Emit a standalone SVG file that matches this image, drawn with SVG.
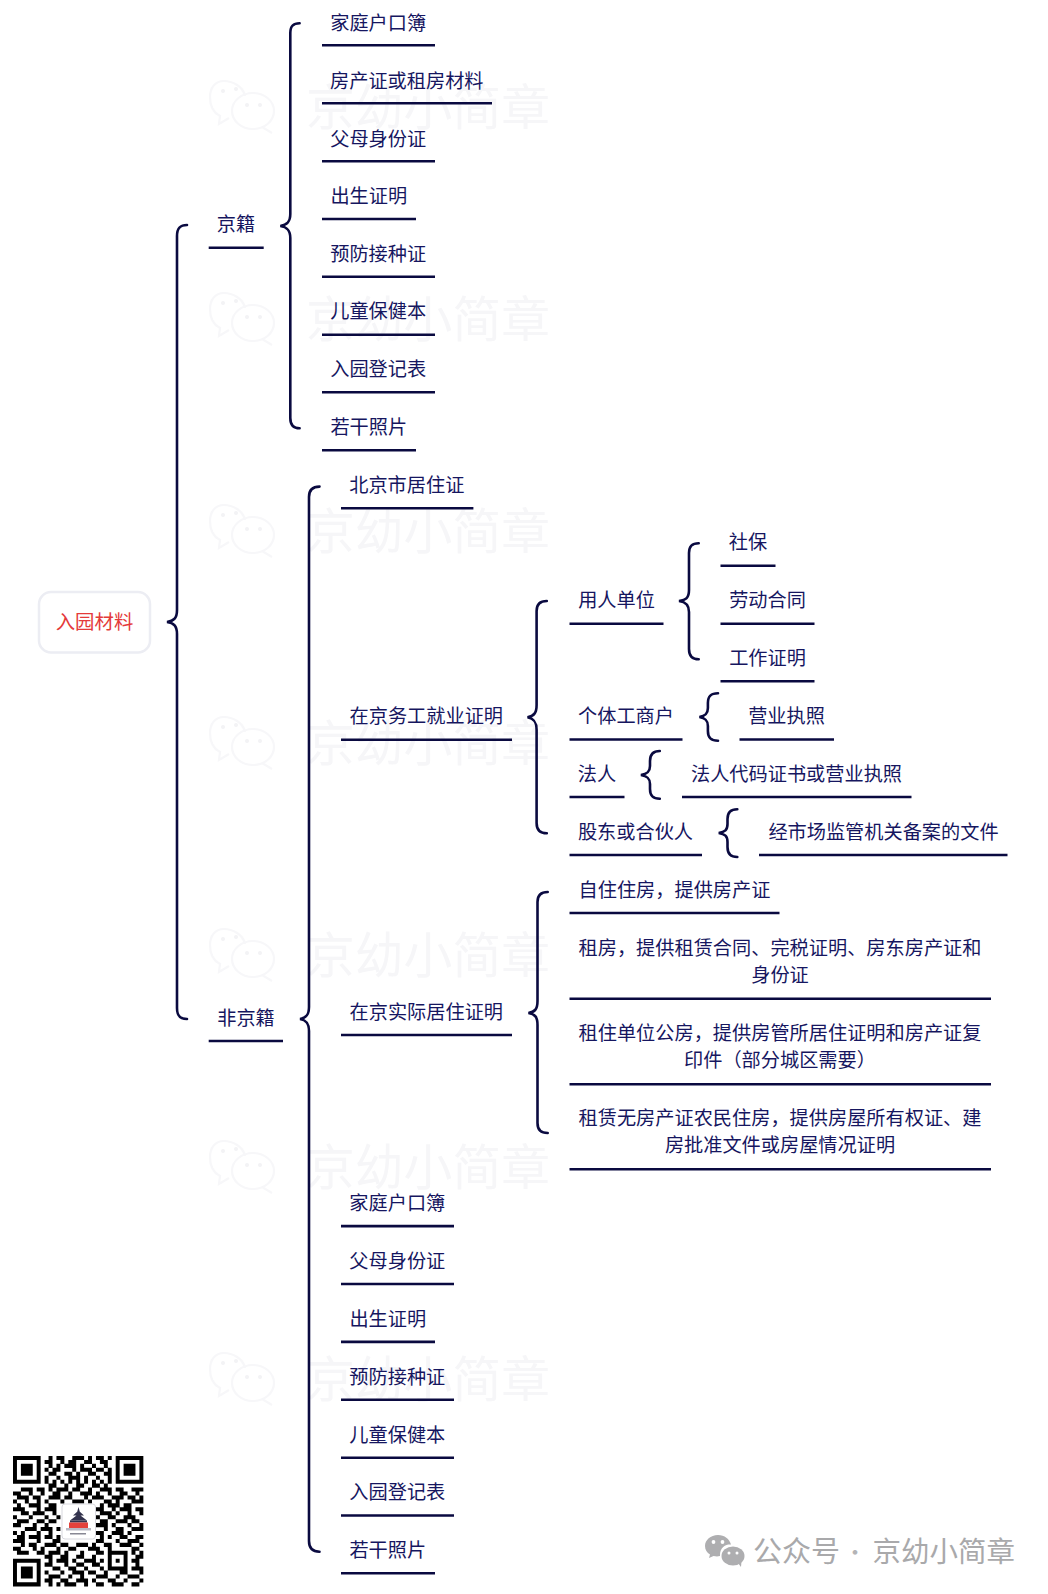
<svg xmlns="http://www.w3.org/2000/svg" width="1048" height="1594" viewBox="0 0 1048 1594">
<style>
text{font-family:"Noto Sans CJK SC","Noto Sans",sans-serif}
.t{font-size:19.200px;fill:#16165f;text-anchor:middle}
.u{stroke:#0a0a40;stroke-width:2.6;fill:none}
.b{stroke:#0a0a40;stroke-width:2.6;fill:none;stroke-linecap:round}
.wm{font-size:48.800px;fill:#f6f6f8}
.wl{fill:none;stroke:#f7f7f9;stroke-width:2.200}
</style>
<defs>
<g id="wmark">
<path class="wl" d="M245 96C243 86 232 81 224 81C215 81 210 88 210 97C210 106 214 113 220 116L219 124L229 118"/>
<ellipse class="wl" cx="253" cy="111" rx="21" ry="18"/>
<path class="wl" d="M262 127L272 133"/>
<circle cx="223" cy="91" r="2" fill="#f3f3f5"/><circle cx="236" cy="89" r="2" fill="#f3f3f5"/><circle cx="247" cy="105" r="2" fill="#f3f3f5"/><circle cx="260" cy="105" r="2" fill="#f3f3f5"/>
<text class="wm" x="306" y="125">京幼小简章</text>
</g>
</defs>
<rect width="1048" height="1594" fill="#fff"/>
<g id="watermarks">
<use href="#wmark"/>
<use href="#wmark" y="212"/>
<use href="#wmark" y="424"/>
<use href="#wmark" y="636"/>
<use href="#wmark" y="848"/>
<use href="#wmark" y="1060"/>
<use href="#wmark" y="1272"/>
</g>
<g id="connectors">
<path class="b" d="M187 225C180 225 177 228 177 236V610C177 618 174 621 167 622C174 623 177 626 177 634V1008C177 1016 180 1019 187 1019"/>
<path class="b" d="M299.600 23.300C293 23.300 290.300 26 290.300 33V214C290.300 222 287 225 280.300 226C287 227 290.300 230 290.300 238V418C290.300 425 293 428.300 299.600 428.300"/>
<path class="b" d="M319.500 486.600C312 486.600 309 490 309 497V1007C309 1015 306 1018 300 1019C306 1020 309 1023 309 1031V1541C309 1548 312 1551.700 319.500 1551.700"/>
<g transform="translate(-1 0)">
<path class="b" d="M547.800 601C541 601 537.600 604 537.600 611V705C537.600 713 535 716 528.500 717.300C535 718.500 537.600 722 537.600 730V823C537.600 830 541 833.300 547.800 833.300"/>
<path class="b" d="M699.700 543.300C693 543.300 690 546 690 553V590C690 598 687 600 680 601C687 602 690 605 690 612V649C690 656 693 659.300 699.700 659.300"/>
<path class="b" d="M719 693.300C712 693.300 708.900 696 708.900 703V708C708.900 714 706 716 700.400 717C706 718 708.900 720 708.900 726V731C708.900 738 712 740.700 719 740.700"/>
<path class="b" d="M660.800 751C654 751 651 754 651 761V766C651 772 648 774 641.900 775C648 776 651 778 651 784V789C651 796 654 798.700 660.800 798.700"/>
<path class="b" d="M738.300 809.300C732 809.300 728.500 812 728.500 819V824C728.500 830 726 832 719.700 833C726 834 728.500 836 728.500 842V847C728.500 854 732 857 738.300 857"/>
<path class="b" d="M548.700 892C542 892 538.500 895 538.500 902V1001C538.500 1009 536 1012 529.400 1013C536 1014 538.500 1017 538.500 1025V1123C538.500 1130 542 1133 548.700 1133"/>
</g>
</g>
<g id="root"><rect x="39" y="592" width="111" height="60.500" rx="12" fill="#fff" stroke="#ecedf3" stroke-width="2.500"/><text x="94.500" y="629" style="font-size:19.400px;fill:#e43a3a;text-anchor:middle">入园材料</text></g>
<g id="jingji"><text class="t" x="236" y="231">京籍</text><path class="u" d="M208.700 247.700H263.700"/></g>
<g id="feijingji"><text class="t" x="246" y="1024.800">非京籍</text><path class="u" d="M208.700 1041H283"/></g>
<g id="a1"><text class="t" x="378.200" y="29.700">家庭户口簿</text><path class="u" d="M322 45.300H435"/></g>
<g id="a2"><text class="t" x="406.800" y="87.700">房产证或租房材料</text><path class="u" d="M322 103.300H492"/></g>
<g id="a3"><text class="t" x="378.200" y="145.700">父母身份证</text><path class="u" d="M322 161.300H435"/></g>
<g id="a4"><text class="t" x="368.800" y="203.400">出生证明</text><path class="u" d="M322 219H416"/></g>
<g id="a5"><text class="t" x="378.200" y="260.500">预防接种证</text><path class="u" d="M322 276.700H435"/></g>
<g id="a6"><text class="t" x="378.200" y="318.400">儿童保健本</text><path class="u" d="M322 334.700H435"/></g>
<g id="a7"><text class="t" x="378.200" y="376">入园登记表</text><path class="u" d="M322 392.300H435"/></g>
<g id="a8"><text class="t" x="368.800" y="434">若干照片</text><path class="u" d="M322 450.300H416"/></g>
<g id="b1"><text class="t" x="406.800" y="492">北京市居住证</text><path class="u" d="M341 508.300H473.400"/></g>
<g id="b2"><text class="t" x="426.300" y="723.300">在京务工就业证明</text><path class="u" d="M341 739.700H512"/></g>
<g id="b3"><text class="t" x="426.300" y="1018.800">在京实际居住证明</text><path class="u" d="M341 1035H512"/></g>
<g id="b4"><text class="t" x="397.300" y="1210">家庭户口簿</text><path class="u" d="M341 1226.100H454"/></g>
<g id="b5"><text class="t" x="397.300" y="1268">父母身份证</text><path class="u" d="M341 1284H454"/></g>
<g id="b6"><text class="t" x="387.800" y="1326">出生证明</text><path class="u" d="M341 1341.900H435"/></g>
<g id="b7"><text class="t" x="397.300" y="1384">预防接种证</text><path class="u" d="M341 1399.800H454"/></g>
<g id="b8"><text class="t" x="397.300" y="1441.500">儿童保健本</text><path class="u" d="M341 1457.700H454"/></g>
<g id="b9"><text class="t" x="397.300" y="1498.800">入园登记表</text><path class="u" d="M341 1515.500H454"/></g>
<g id="b10"><text class="t" x="387.800" y="1557">若干照片</text><path class="u" d="M341 1573.300H435"/></g>
<g id="c1"><text class="t" x="616.500" y="607.300">用人单位</text><path class="u" d="M569.500 623.700H663.500"/></g>
<g id="c2"><text class="t" x="626" y="723.300">个体工商户</text><path class="u" d="M569.500 739.500H682.500"/></g>
<g id="c3"><text class="t" x="597" y="781">法人</text><path class="u" d="M569.500 797H624.500"/></g>
<g id="c4"><text class="t" x="635.500" y="839">股东或合伙人</text><path class="u" d="M569.500 855H702"/></g>
<g id="d1"><text class="t" x="748" y="549.300">社保</text><path class="u" d="M720.500 565.700H775.500"/></g>
<g id="d2"><text class="t" x="767.500" y="607.300">劳动合同</text><path class="u" d="M720.500 623.700H814.500"/></g>
<g id="d3"><text class="t" x="767.500" y="665.300">工作证明</text><path class="u" d="M720.500 681.300H814.500"/></g>
<g id="d4"><text class="t" x="786.500" y="723.300">营业执照</text><path class="u" d="M739.500 739.500H834"/></g>
<g id="d5"><text class="t" x="796.500" y="781">法人代码证书或营业执照</text><path class="u" d="M682 797H911.500"/></g>
<g id="d6"><text class="t" x="883.500" y="839">经市场监管机关备案的文件</text><path class="u" d="M759 855H1007.500"/></g>
<g id="e1"><text class="t" x="674.500" y="897">自住住房，提供房产证</text><path class="u" d="M569.500 913H779.500"/></g>
<g id="e2"><text class="t" x="780" y="954.500">租房，提供租赁合同、完税证明、房东房产证和</text><text class="t" x="780" y="982">身份证</text><path class="u" d="M569.500 998.700H991"/></g>
<g id="e3"><text class="t" x="780" y="1040">租住单位公房，提供房管所居住证明和房产证复</text><text class="t" x="780" y="1066.500">印件（部分城区需要）</text><path class="u" d="M569.500 1084.200H991"/></g>
<g id="e4"><text class="t" x="780" y="1124.500">租赁无房产证农民住房，提供房屋所有权证、建</text><text class="t" x="780" y="1152">房批准文件或房屋情况证明</text><path class="u" d="M569.500 1169.200H991"/></g>
<g id="qr">
<path transform="translate(13 1456) scale(3.95)" fill="none" stroke="#000" stroke-width="1.02" d="M0 .5h7M9 .5h1M11 .5h2M15 .5h3M19 .5h1M21 .5h2M24 .5h1M26 .5h7M0 1.500h1M6 1.500h1M8 1.500h2M12 1.500h1M14 1.500h2M18 1.500h2M22 1.500h2M26 1.500h1M32 1.500h1M0 2.500h1M2 2.500h3M6 2.500h1M9 2.500h1M11 2.500h1M13 2.500h3M17 2.500h1M20 2.500h1M23 2.500h1M26 2.500h1M28 2.500h3M32 2.500h1M0 3.500h1M2 3.500h3M6 3.500h1M8 3.500h1M10 3.500h2M15 3.500h1M17 3.500h3M21 3.500h2M24 3.500h1M26 3.500h1M28 3.500h3M32 3.500h1M0 4.500h1M2 4.500h3M6 4.500h1M9 4.500h2M13 4.500h2M16 4.500h1M19 4.500h2M23 4.500h2M26 4.500h1M28 4.500h3M32 4.500h1M0 5.500h1M6 5.500h1M8 5.500h1M11 5.500h1M14 5.500h3M18 5.500h1M21 5.500h1M24 5.500h1M26 5.500h1M32 5.500h1M0 6.500h7M8 6.500h1M10 6.500h1M12 6.500h1M14 6.500h1M16 6.500h1M18 6.500h1M20 6.500h1M22 6.500h1M24 6.500h1M26 6.500h7M9 7.500h2M13 7.500h1M16 7.500h2M20 7.500h2M23 7.500h1M2 8.500h3M6 8.500h2M9 8.500h1M11 8.500h3M15 8.500h2M19 8.500h1M22 8.500h3M26 8.500h2M30 8.500h3M0 9.500h2M4 9.500h1M7 9.500h1M10 9.500h2M14 9.500h1M17 9.500h3M21 9.500h1M24 9.500h1M27 9.500h2M31 9.500h1M1 10.500h3M5 10.500h2M9 10.500h3M13 10.500h2M18 10.500h1M20 10.500h3M25 10.500h3M29 10.500h2M32 10.500h1M0 11.500h1M3 11.500h1M6 11.500h1M8 11.500h1M12 11.500h1M15 11.500h3M19 11.500h1M23 11.500h2M26 11.500h1M30 11.500h3M1 12.500h1M4 12.500h3M9 12.500h2M22 12.500h1M24 12.500h3M28 12.500h2M0 13.500h3M6 13.500h1M8 13.500h3M21 13.500h2M25 13.500h1M27 13.500h3M31 13.500h2M2 14.500h2M5 14.500h3M10 14.500h1M22 14.500h3M26 14.500h1M29 14.500h1M32 14.500h1M0 15.500h1M4 15.500h1M8 15.500h1M11 15.500h1M21 15.500h1M24 15.500h2M28 15.500h3M1 16.500h3M6 16.500h2M9 16.500h2M22 16.500h2M26 16.500h3M30 16.500h2M0 17.500h2M5 17.500h1M8 17.500h1M21 17.500h3M25 17.500h1M29 17.500h1M32 17.500h1M3 18.500h3M7 18.500h3M11 18.500h1M23 18.500h1M26 18.500h2M30 18.500h3M0 19.500h1M2 19.500h1M6 19.500h1M9 19.500h1M21 19.500h2M25 19.500h3M29 19.500h1M1 20.500h2M4 20.500h3M8 20.500h2M11 20.500h1M22 20.500h1M24 20.500h1M27 20.500h2M31 20.500h2M0 21.500h3M6 21.500h1M10 21.500h2M21 21.500h2M26 21.500h1M29 21.500h3M2 22.500h1M4 22.500h2M8 22.500h3M12 22.500h2M16 22.500h3M20 22.500h1M23 22.500h2M27 22.500h3M32 22.500h1M0 23.500h2M5 23.500h1M7 23.500h1M11 23.500h1M14 23.500h2M19 23.500h3M24 23.500h1M30 23.500h2M1 24.500h3M6 24.500h2M9 24.500h3M13 24.500h1M17 24.500h1M21 24.500h2M24 24.500h5M30 24.500h1M32 24.500h1M8 25.500h2M12 25.500h2M16 25.500h2M20 25.500h1M24 25.500h1M28 25.500h1M31 25.500h2M0 26.500h7M9 26.500h1M11 26.500h3M15 26.500h1M18 26.500h3M22 26.500h1M24 26.500h1M26 26.500h1M28 26.500h1M30 26.500h2M0 27.500h1M6 27.500h1M8 27.500h2M13 27.500h1M16 27.500h2M20 27.500h2M24 27.500h1M28 27.500h1M31 27.500h1M0 28.500h1M2 28.500h3M6 28.500h1M10 28.500h2M14 28.500h2M18 28.500h1M22 28.500h1M24 28.500h5M30 28.500h3M0 29.500h1M2 29.500h3M6 29.500h1M8 29.500h1M12 29.500h1M15 29.500h3M19 29.500h2M23 29.500h1M27 29.500h2M32 29.500h1M0 30.500h1M2 30.500h3M6 30.500h1M9 30.500h3M14 30.500h1M17 30.500h1M21 30.500h3M26 30.500h1M29 30.500h3M0 31.500h1M6 31.500h1M8 31.500h2M12 31.500h2M16 31.500h3M20 31.500h1M24 31.500h2M28 31.500h1M32 31.500h1M0 32.500h7M9 32.500h1M11 32.500h1M13 32.500h3M18 32.500h1M21 32.500h2M25 32.500h3M30 32.500h2"/>
<rect x="62" y="1504" width="33.500" height="35" rx="3" fill="#fff" stroke="#d8d8de" stroke-width="1"/>
<path fill="#33334d" d="M78.500 1507L80 1512.500H77ZM78.500 1510.500L84 1515.500H73ZM78.500 1514L87 1520.500H70Z"/>
<rect x="70" y="1520.500" width="17" height="2" fill="#33334d"/>
<rect x="69" y="1522.500" width="19" height="5.500" fill="#e4423c"/>
<rect x="66" y="1528" width="25" height="2.500" fill="#b9b9c4"/>
<rect x="70" y="1533" width="16" height="1.500" fill="#888894"/>
</g>
<g id="footer">
<path fill="#aeaeb0" d="M718 1535C710.500 1535 705 1540 705 1546C705 1550 707 1552.500 710 1554.500L709 1558L713.500 1556C716 1556.500 718 1556.500 720 1556C719.500 1546 727 1544 731 1544.500C729.500 1539 724.500 1535 718 1535Z"/>
<ellipse cx="733" cy="1556" rx="11.500" ry="9.500" fill="#aeaeb0"/>
<path fill="#aeaeb0" d="M738 1563L741 1567L741.500 1561Z"/>
<g fill="#fff"><circle cx="713.500" cy="1542" r="1.900"/><circle cx="722.500" cy="1542" r="1.900"/><circle cx="729" cy="1553" r="1.500"/><circle cx="737" cy="1553" r="1.500"/></g>
<text x="753" y="1562" style="font-size:29px;fill:#a9a9ab">公众号</text>
<text x="855" y="1560" style="font-size:22px;fill:#b4b4b6;text-anchor:middle">·</text>
<text x="872.500" y="1562" style="font-size:28.500px;fill:#a9a9ab">京幼小简章</text>
</g>
</svg>
